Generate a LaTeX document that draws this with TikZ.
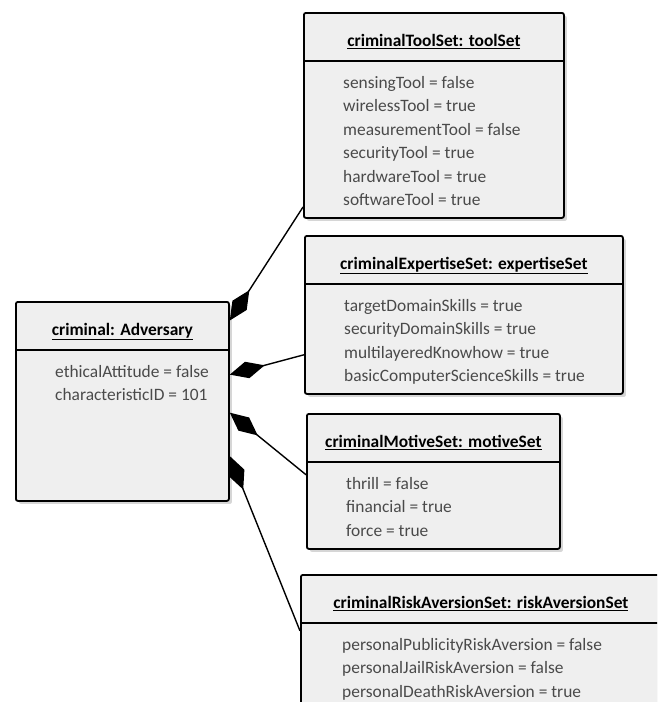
\documentclass[tikz,border=0pt]{standalone}
\usepackage{fontspec}
\setmainfont{Carlito}
\usetikzlibrary{positioning,arrows.meta,shadows}
\definecolor{boxgray}{HTML}{EFEFEF}
\definecolor{attrgray}{HTML}{4A4A4A}

\begin{document}
\begin{tikzpicture}[x=1pt,y=-1pt,
    obj/.style={draw, line width=1.8pt, rounded corners=2pt, fill=boxgray, anchor=north west,
        inner sep=0pt, drop shadow={shadow xshift=3pt, shadow yshift=-3pt, fill=black!16, opacity=1}},
    objtitle/.style={inner sep=0pt, font=\bfseries\fontsize{17.4pt}{23.5pt}\selectfont},
    attrs/.style={inner sep=0pt, align=left, text=attrgray, font=\fontsize{17.4pt}{23.5pt}\selectfont},
    sep/.style={line width=1.4pt},
    comp/.style={line width=1.4pt, -{Diamond[length=36pt,width=17pt]}}]
    \useasboundingbox (0,0) rectangle (657,702);
    \clip (0,0) rectangle (657,702);
    \node[obj, minimum width=213, minimum height=199] (adv)  at (15,301)  {};
    \node[obj, minimum width=260, minimum height=205] (tool) at (303,12)  {};
    \node[obj, minimum width=318, minimum height=158] (exp)  at (304,235) {};
    \node[obj, minimum width=253, minimum height=135] (mot)  at (306,413) {};
    \node[obj, minimum width=360, minimum height=150] (risk) at (300,574) {};
    \node[objtitle, below=22pt of adv.north]  (advtitle)  {\underline{criminal: Adversary}};
    \node[objtitle, below=22pt of tool.north] (tooltitle) {\underline{criminalToolSet: toolSet}};
    \node[objtitle, below=22pt of exp.north]  (exptitle)  {\underline{criminalExpertiseSet: expertiseSet}};
    \node[objtitle, below=22pt of mot.north]  (mottitle)  {\underline{criminalMotiveSet: motiveSet}};
    \node[objtitle, below=22pt of risk.north] (risktitle) {\underline{criminalRiskAversionSet: riskAversionSet}};
    \foreach \b in {adv,tool,exp,mot,risk}
        \draw[sep] ([yshift=-49pt]\b.north west) -- ([yshift=-49pt]\b.north east);
    \node[attrs, below right=64pt and 40pt of adv.north west] (advattr)
        {ethicalAttitude = false\\characteristicID = 101};
    \node[attrs, below right=64pt and 40pt of tool.north west] (toolattr)
        {sensingTool = false\\wirelessTool = true\\measurementTool = false\\securityTool = true\\hardwareTool = true\\softwareTool = true};
    \node[attrs, below right=64pt and 40pt of exp.north west] (expattr)
        {targetDomainSkills = true\\securityDomainSkills = true\\multilayeredKnowhow = true\\basicComputerScienceSkills = true};
    \node[attrs, below right=64pt and 40pt of mot.north west] (motattr)
        {thrill = false\\financial = true\\force = true};
    \node[attrs, below right=64pt and 42pt of risk.north west] (riskattr)
        {personalPublicityRiskAversion = false\\personalJailRiskAversion = false\\personalDeathRiskAversion = true};
    \draw[comp] (tool.215.4) -- (adv.37.8);
    \draw[comp] (exp.194.5) -- (adv.14.5);
    \draw[comp] (mot.177.5) -- (adv.-6.2);
    \draw[comp] (risk.174.9) -- (adv.-27.9);
\end{tikzpicture}
\end{document}
